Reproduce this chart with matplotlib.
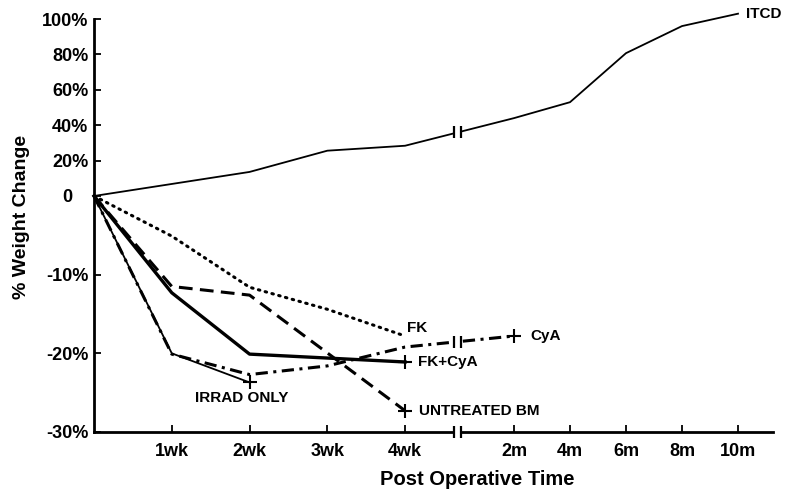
import numpy as np
import matplotlib.pyplot as plt

plt.rcParams['font.family'] = ['Liberation Sans', 'DejaVu Sans']
plt.rcParams['font.weight'] = 'bold'
plt.rcParams['axes.labelweight'] = 'bold'

# time points: weeks before the axis break, months after it
wk_ticks = [1, 2, 3, 4]
mo_ticks = [2, 4, 6, 8, 10]

itcd_wk = [0, 2, 3, 4]
itcd_wk_val = [0, 13.6, 25.6, 28.4]
itcd_mo = [2, 4, 6, 8, 10]
itcd_mo_val = [44, 53, 80.7, 96, 103]

fk_wk = [0, 1, 2, 3, 4]
fk_val = [0, -5.1, -11.6, -14.4, -17.8]

fkcya_wk = [0, 1, 2, 4]
fkcya_val = [0, -12.3, -20.1, -21.1]

untreated_wk = [0, 1, 2, 4]
untreated_val = [0, -11.5, -12.6, -27.3]

cya_wk = [0, 1, 2, 3, 4]
cya_wk_val = [0, -20.1, -22.7, -21.6, -19.2]
cya_mo = [2]
cya_mo_val = [-17.8]

irrad_wk = [0, 1, 2]
irrad_val = [0, -20, -23.7]

y_ticks = [100, 80, 60, 40, 20, 0, -10, -20, -30]
y_labels = ['100%', '80%', '60%', '40%', '20%', '0   ', '-10%', '-20%', '-30%']

# x layout: 1 unit = 1 week, months squeezed after the break
BREAK = 4.68
MONTH_W = 0.36
XMAX = 8.73
POS_K = 0.225  # positive side of y axis is compressed


def mo_pos(m):
    return BREAK + np.asarray(m, float) * MONTH_W


def fwd(y):
    y = np.asarray(y, float)
    return np.where(y >= 0, y * POS_K, y)


def inv(u):
    u = np.asarray(u, float)
    return np.where(u >= 0, u / POS_K, u)


def draw_break(ax, y, gap=0.045):
    ax.plot([BREAK - gap, BREAK + gap], [y, y], color='white', lw=5,
            solid_capstyle='butt', zorder=5, clip_on=False)
    ax.plot([BREAK - gap, BREAK + gap], [y, y], ls='none', marker='|',
            ms=9, mew=1.6, color='black', zorder=6, clip_on=False)


fig = plt.figure(figsize=(7.87, 4.93), dpi=100)
ax = fig.add_axes([94 / 787, 61 / 493, 679 / 787, 413 / 493])
ax.set_yscale('function', functions=(fwd, inv))
ax.set_ylim(-30, 100)
ax.set_xlim(0, XMAX)

k = dict(color='black', clip_on=False, zorder=4)

# ITCD
itcd_x = np.concatenate([itcd_wk, mo_pos(itcd_mo)])
itcd_y = np.concatenate([itcd_wk_val, itcd_mo_val])
ax.plot(itcd_x, itcd_y, lw=1.3, **k)
draw_break(ax, np.interp(BREAK, itcd_x, itcd_y))

# FK
ax.plot(fk_wk, fk_val, lw=2.2, ls=(0, (0.5, 1.8)), dash_capstyle='round', **k)

# FK + CyA
ax.plot(fkcya_wk, fkcya_val, lw=2.4, **k)
ax.plot(fkcya_wk[-1], fkcya_val[-1], marker='+', ms=10, mew=1.5, **k)

# untreated BM
ax.plot(untreated_wk, untreated_val, lw=2.2, ls=(0, (4.5, 2.4)), **k)
ax.plot(untreated_wk[-1], untreated_val[-1], marker='+', ms=10, mew=1.5, **k)

# CyA
cya_x = np.concatenate([cya_wk, mo_pos(cya_mo)])
cya_y = np.concatenate([cya_wk_val, cya_mo_val])
ax.plot(cya_x, cya_y, lw=2.2, ls=(0, (4, 1.8, 1, 1.8)), **k)
ax.plot(cya_x[-1], cya_y[-1], marker='+', ms=10, mew=1.5, **k)
draw_break(ax, np.interp(BREAK, cya_x, cya_y))

# irradiation only
ax.plot(irrad_wk, irrad_val, lw=1.3, **k)
ax.plot(irrad_wk[-1], irrad_val[-1], marker='+', ms=10, mew=1.5, **k)

# curve labels
lab = dict(fontsize=11, textcoords='offset points', va='center',
           annotation_clip=False)
ax.annotate('ITCD', (itcd_x[-1], itcd_y[-1]), xytext=(6, 0), ha='left', **lab)
ax.annotate('FK', (fk_wk[-1], fk_val[-1]), xytext=(1.5, 6), ha='left', **lab)
ax.annotate('FK+CyA', (fkcya_wk[-1], fkcya_val[-1]), xytext=(9.5, 0), ha='left', **lab)
ax.annotate('UNTREATED BM', (untreated_wk[-1], untreated_val[-1]), xytext=(10, 0),
            ha='left', **lab)
ax.annotate('CyA', (cya_x[-1], cya_y[-1]), xytext=(11.5, 0), ha='left', **lab)
ax.annotate('IRRAD ONLY', (irrad_wk[-1], irrad_val[-1]), xytext=(-6, -11),
            ha='center', **lab)

# axes
ax.spines['top'].set_visible(False)
ax.spines['right'].set_visible(False)
for s in ('left', 'bottom'):
    ax.spines[s].set_linewidth(2)
draw_break(ax, -30)

ax.set_yticks(y_ticks)
ax.set_yticklabels(y_labels)
ax.yaxis.set_minor_locator(plt.NullLocator())
x_ticks = list(wk_ticks) + list(mo_pos(mo_ticks))
ax.set_xticks(x_ticks)
ax.set_xticklabels([f'{w}wk' for w in wk_ticks] + [f'{m}m' for m in mo_ticks])
ax.tick_params(axis='both', direction='in', length=5, width=1.3, labelsize=13)
ax.tick_params(axis='x', pad=8)
ax.tick_params(axis='y', pad=4)

ax.set_ylabel('% Weight Change', fontsize=14)
ax.yaxis.set_label_coords(-0.094, 0.52)
ax.set_xlabel('Post Operative Time', fontsize=14.5)
ax.xaxis.set_label_coords(0.564, -0.092)

fig.savefig('out.png', dpi=100)
